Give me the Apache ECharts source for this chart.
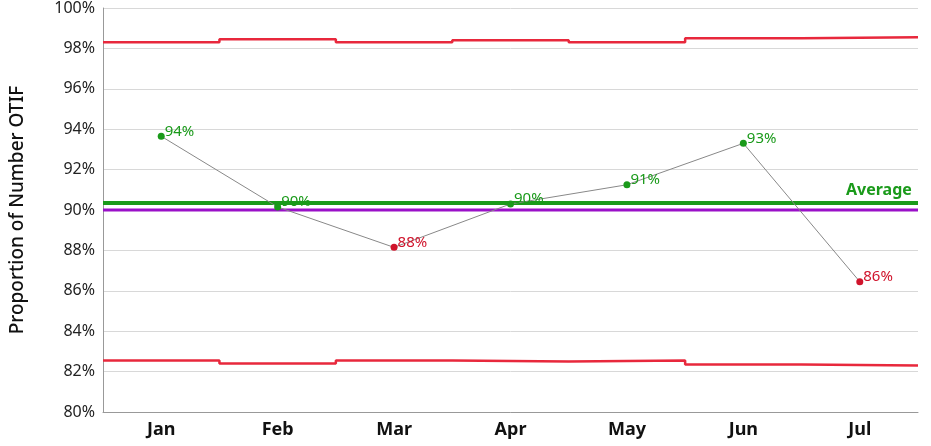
<!DOCTYPE html>
<html><head><meta charset="utf-8">
<script src="https://cdn.jsdelivr.net/npm/echarts@6/dist/echarts.min.js"></script>
<style>html,body{margin:0;padding:0;background:#fff}#c{width:931px;height:446px}</style>
</head><body><div id="c"></div>
<script>
const categories = ['Jan','Feb','Mar','Apr','May','Jun','Jul'];
const otif = [93.65, 90.15, 88.15, 90.3, 91.25, 93.3, 86.45];
const upperLimit = [98.3, 98.45, 98.3, 98.4, 98.3, 98.5, 98.55];
const lowerLimit = [82.55, 82.4, 82.55, 82.5, 82.55, 82.35, 82.3];
const average = 90.35;
const target = 90;
const yTicks = {min: 80, max: 100, interval: 2};

function steps(arr){const d=[];arr.forEach((v,i)=>{d.push([i,v]);d.push([i+1,v]);});return d;}
const green='#1a9a1a', red='#d0142c';
const font='Noto Sans';
const chart = echarts.init(document.getElementById('c'));
chart.setOption({
  animation:false,
  textStyle:{fontFamily:font},
  grid:{left:103,right:13,top:6,bottom:34},
  xAxis:[
    {type:'category',data:categories,boundaryGap:true,
     axisLine:{lineStyle:{color:'#999'}},axisTick:{show:false},
     axisLabel:{color:'#111',fontSize:18,fontWeight:'bold',margin:9,fontFamily:font}},
    {type:'value',min:0,max:categories.length,show:false}
  ],
  yAxis:{type:'value',min:yTicks.min,max:yTicks.max,interval:yTicks.interval,
    name:'Proportion of Number OTIF',nameLocation:'middle',nameGap:76,
    nameTextStyle:{fontSize:19,color:'#111',fontFamily:font,fontWeight:500},
    axisLine:{show:true,lineStyle:{color:'#999'}},axisTick:{show:false},
    axisLabel:{formatter:'{value}%',color:'#222',fontSize:16,fontFamily:font},
    splitLine:{lineStyle:{color:'#d8d8d8'}}},
  series:[
    {type:'line',xAxisIndex:1,data:steps(upperLimit),symbol:'none',lineStyle:{color:'#e8283c',width:2.5},z:2},
    {type:'line',xAxisIndex:1,data:steps(lowerLimit),symbol:'none',lineStyle:{color:'#e8283c',width:2.5},z:2},
    {type:'line',xAxisIndex:1,data:[[0,target],[categories.length,target]],symbol:'none',lineStyle:{color:'#9a10c8',width:3},z:2},
    {type:'line',xAxisIndex:1,data:[[0,average],[categories.length,average]],symbol:'none',lineStyle:{color:green,width:4},z:3,
     endLabel:{show:true,formatter:'Average',color:green,fontWeight:'bold',fontSize:16,offset:[-80,-12]}},
    {type:'line',xAxisIndex:0,data:otif.map(v=>({value:v,itemStyle:{color:v>=target?green:red},
       label:{color:v>=target?green:red}})),
     symbol:'circle',symbolSize:7,lineStyle:{color:'#888',width:1},z:5,
     label:{show:true,position:'right',distance:0,fontSize:15,offset:[0,-5],formatter:p=>Math.round(p.value)+'%'}}
  ]
});
</script></body></html>
